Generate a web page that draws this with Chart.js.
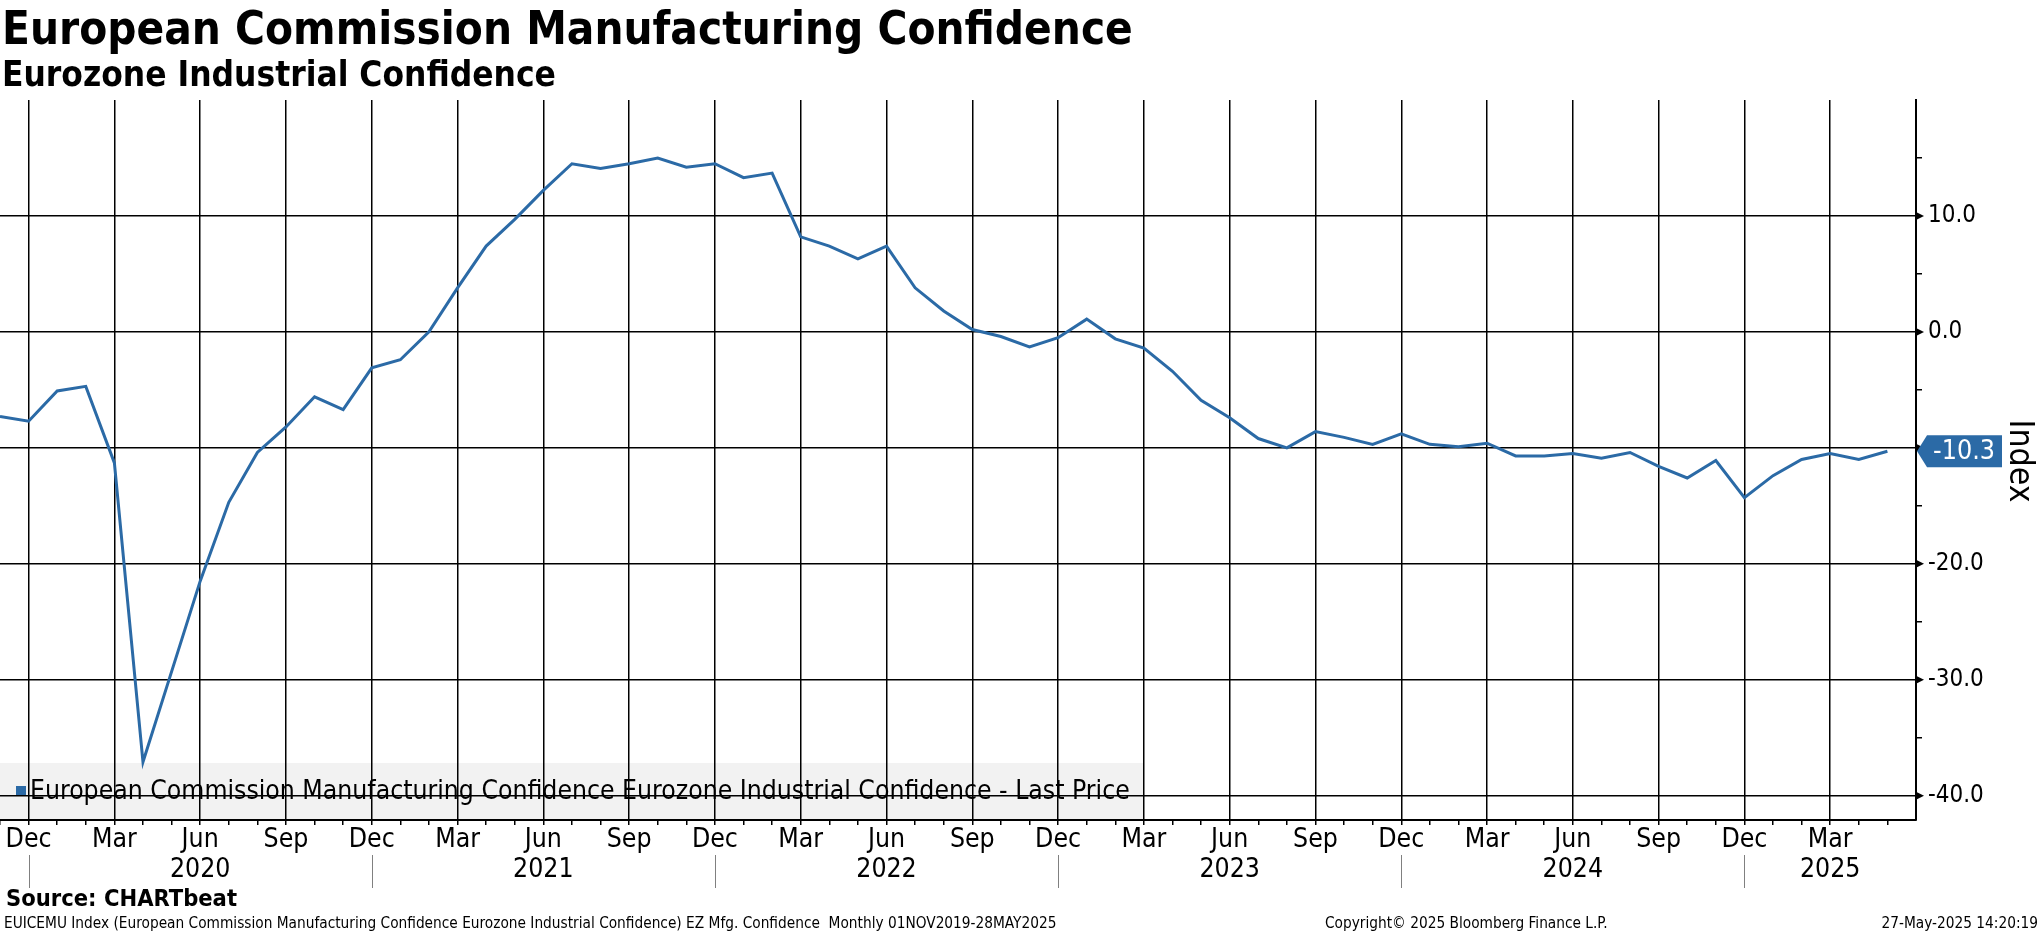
<!DOCTYPE html>
<html>
<head>
<meta charset="utf-8">
<script src="https://cdn.jsdelivr.net/npm/chart.js@4.4.1/dist/chart.umd.min.js"></script>
<style>
  html, body { margin: 0; padding: 0; background: #fff; overflow: hidden; }
  canvas { display: block; }
</style>
</head>
<body>
<canvas id="chart" width="2041" height="936"></canvas>
<script>
// monthly observations, Nov 2019 .. May 2025
const periods = [
  "2019-11", "2019-12",
  "2020-01", "2020-02", "2020-03", "2020-04", "2020-05", "2020-06",
  "2020-07", "2020-08", "2020-09", "2020-10", "2020-11", "2020-12",
  "2021-01", "2021-02", "2021-03", "2021-04", "2021-05", "2021-06",
  "2021-07", "2021-08", "2021-09", "2021-10", "2021-11", "2021-12",
  "2022-01", "2022-02", "2022-03", "2022-04", "2022-05", "2022-06",
  "2022-07", "2022-08", "2022-09", "2022-10", "2022-11", "2022-12",
  "2023-01", "2023-02", "2023-03", "2023-04", "2023-05", "2023-06",
  "2023-07", "2023-08", "2023-09", "2023-10", "2023-11", "2023-12",
  "2024-01", "2024-02", "2024-03", "2024-04", "2024-05", "2024-06",
  "2024-07", "2024-08", "2024-09", "2024-10", "2024-11", "2024-12",
  "2025-01", "2025-02", "2025-03", "2025-04", "2025-05",
];
const confidence = [
  -7.3, -7.7,
  -5.1, -4.7, -11.3, -37.1, -29.3, -21.5,
  -14.7, -10.4, -8.2, -5.6, -6.7, -3.1,
  -2.4, 0.0, 3.8, 7.4, 9.7, 12.2,
  14.5, 14.1, 14.5, 15.0, 14.2, 14.5,
  13.3, 13.7, 8.2, 7.4, 6.3, 7.4,
  3.8, 1.8, 0.2, -0.4, -1.3, -0.5,
  1.1, -0.6, -1.4, -3.4, -5.9, -7.4,
  -9.2, -10.0, -8.6, -9.1, -9.7, -8.8,
  -9.7, -9.9, -9.6, -10.7, -10.7, -10.5,
  -10.9, -10.4, -11.6, -12.6, -11.1, -14.3,
  -12.4, -11.0, -10.5, -11.0, -10.3,
];
const monthNames = ["Jan", "Feb", "Mar", "Apr", "May", "Jun",
                    "Jul", "Aug", "Sep", "Oct", "Nov", "Dec"];
const labelledMonths = ["Dec", "Mar", "Jun", "Sep"];
const yLabelTicks = [10, 0, -10, -20, -30, -40];

const titleText = "European Commission Manufacturing Confidence";
const subtitleText = "Eurozone Industrial Confidence";
const seriesName = "European Commission Manufacturing Confidence Eurozone Industrial Confidence - Last Price";
const sourceText = "Source: CHARTbeat";
const footerLeft = "EUICEMU Index (European Commission Manufacturing Confidence Eurozone Industrial Confidence) EZ Mfg. Confidence  Monthly 01NOV2019-28MAY2025";
const footerMid = "Copyright\u00a9 2025 Bloomberg Finance L.P.";
const footerRight = "27-May-2025 14:20:19";
const axisTitle = "Index";

const FONT = '"DejaVu Sans Condensed", "DejaVu Sans", sans-serif';
const BLUE = "#2b6aa6";

const measure = document.createElement("canvas").getContext("2d");
function fitSize(text, weight, width) {
  measure.font = `${weight} 100px ${FONT}`;
  return (100 * width) / measure.measureText(text).width;
}

const monthOf = (i) => monthNames[Number(periods[i].slice(5)) - 1];

// year label goes under the labelled month closest to the middle of that year
const yearLabelAt = {};
[...new Set(periods.map((p) => p.slice(0, 4)))].forEach((yr) => {
  const idx = periods.map((p, i) => (p.startsWith(yr) ? i : -1)).filter((i) => i >= 0);
  if (idx.length < 3) return;
  const mid = (idx[0] + idx[idx.length - 1]) / 2;
  let best = null;
  idx.forEach((i) => {
    if (labelledMonths.includes(monthOf(i)) && (best === null || Math.abs(i - mid) < Math.abs(best - mid))) best = i;
  });
  if (best !== null) yearLabelAt[best] = yr;
});

const xFont = fitSize("Dec", "normal", 46);
const yFont = fitSize("10.0", "normal", 48);
const footFont = fitSize(footerLeft, "normal", 1053);

const decorations = {
  id: "decorations",
  beforeDraw(chart) {
    const { ctx, chartArea } = chart;
    ctx.save();
    ctx.fillStyle = "#fff";
    ctx.fillRect(0, 0, chart.width, chart.height);

    // legend band sits under the grid
    ctx.fillStyle = "#f2f2f2";
    ctx.fillRect(chartArea.left, 763, 1143, chartArea.bottom - 763);
    ctx.fillStyle = BLUE;
    ctx.fillRect(16, 786, 10, 10);
    ctx.fillStyle = "#000";
    ctx.font = `normal ${fitSize(seriesName, "normal", 1100)}px ${FONT}`;
    ctx.textBaseline = "middle";
    ctx.fillText(seriesName, 30, 792);
    ctx.restore();
  },
  afterDraw(chart) {
    const { ctx, chartArea, scales } = chart;
    const x = scales.x;
    const y = scales.y;
    ctx.save();
    ctx.fillStyle = "#000";
    ctx.textBaseline = "alphabetic";
    ctx.font = `bold ${fitSize(titleText, "bold", 1131)}px ${FONT}`;
    ctx.fillText(titleText, 2, 44);
    ctx.font = `bold ${fitSize(subtitleText, "bold", 554)}px ${FONT}`;
    ctx.fillText(subtitleText, 2, 86);

    ctx.textBaseline = "middle";
    ctx.font = `bold ${fitSize(sourceText, "bold", 231)}px ${FONT}`;
    ctx.fillText(sourceText, 6, 900);
    ctx.font = `normal ${footFont}px ${FONT}`;
    ctx.fillText(footerLeft, 4, 924);
    ctx.fillText(footerMid, 1325, 924);
    ctx.textAlign = "right";
    ctx.fillText(footerRight, 2038, 924);
    ctx.textAlign = "left";

    // year separators under the December ticks
    ctx.strokeStyle = "#808080";
    ctx.lineWidth = 1;
    periods.forEach((p, i) => {
      if (i > 0 && monthOf(i) === "Dec") {
        const px = Math.round(x.getPixelForValue(i)) + 0.5;
        ctx.beginPath();
        ctx.moveTo(px, 855);
        ctx.lineTo(px, 888);
        ctx.stroke();
      }
    });

    // pointer ticks on the value axis
    ctx.fillStyle = "#000";
    yLabelTicks.forEach((v) => {
      const py = y.getPixelForValue(v);
      ctx.beginPath();
      ctx.moveTo(chartArea.right, py - 4);
      ctx.lineTo(chartArea.right + 8, py);
      ctx.lineTo(chartArea.right, py + 4);
      ctx.closePath();
      ctx.fill();
    });

    // last value badge
    const last = confidence[confidence.length - 1];
    const py = y.getPixelForValue(last);
    const x0 = chartArea.right + 1;
    ctx.fillStyle = BLUE;
    ctx.beginPath();
    ctx.moveTo(x0, py);
    ctx.lineTo(x0 + 10, py - 16);
    ctx.lineTo(2002, py - 16);
    ctx.lineTo(2002, py + 16);
    ctx.lineTo(x0 + 10, py + 16);
    ctx.closePath();
    ctx.fill();
    ctx.fillStyle = "#fff";
    ctx.textAlign = "center";
    const lastText = last.toFixed(1);
    ctx.font = `normal ${fitSize(lastText, "normal", 62)}px ${FONT}`;
    ctx.fillText(lastText, 1964, py + 1);

    // axis title, reading downwards
    ctx.fillStyle = "#000";
    ctx.translate(2019, 461);
    ctx.rotate(Math.PI / 2);
    ctx.font = `normal ${fitSize(axisTitle, "normal", 83)}px ${FONT}`;
    ctx.fillText(axisTitle, 0, 0);
    ctx.restore();
  },
};

new Chart(document.getElementById("chart"), {
  type: "line",
  data: {
    datasets: [
      {
        label: seriesName,
        data: confidence.map((v, i) => ({ x: i, y: v })),
        borderColor: BLUE,
        borderWidth: 3,
        pointRadius: 0,
        tension: 0,
      },
    ],
  },
  options: {
    responsive: false,
    animation: false,
    devicePixelRatio: 1,
    layout: { padding: { top: 100, left: 0, right: 0, bottom: 0 } },
    plugins: { legend: { display: false }, tooltip: { enabled: false } },
    scales: {
      x: {
        type: "linear",
        min: 0,
        max: 67,
        afterFit: (s) => { s.height = 116; },
        afterBuildTicks: (s) => { s.ticks = periods.map((p, i) => ({ value: i })); },
        border: { color: "#000", width: 2 },
        grid: {
          color: (c) => (c.tick && labelledMonths.includes(monthOf(c.tick.value)) ? "#000" : "rgba(0,0,0,0)"),
          lineWidth: 1.5,
          tickColor: "#000",
          tickLength: 5,
        },
        ticks: {
          autoSkip: false,
          maxRotation: 0,
          padding: 0,
          color: "#000",
          font: { family: FONT, size: xFont, lineHeight: "30px" },
          callback: (v) => {
            const m = monthOf(v);
            if (!labelledMonths.includes(m)) return "";
            return [m, yearLabelAt[v] || ""];
          },
        },
      },
      y: {
        position: "right",
        min: -42.1,
        max: 20,
        afterFit: (s) => { s.width = 125; },
        afterBuildTicks: (s) => {
          const t = [];
          for (let v = 20; v >= -40; v -= 5) t.push({ value: v });
          s.ticks = t;
        },
        border: { color: "#000", width: 2 },
        grid: {
          color: (c) => (c.tick && c.tick.value % 10 === 0 && c.tick.value < 20 ? "#000" : "rgba(0,0,0,0)"),
          lineWidth: 1.5,
          tickColor: (c) => (c.tick && c.tick.value % 10 !== 0 ? "#000" : "rgba(0,0,0,0)"),
          tickLength: 6,
        },
        ticks: {
          padding: 6,
          color: "#000",
          font: { family: FONT, size: yFont },
          callback: (v) => (yLabelTicks.includes(v) ? v.toFixed(1) : ""),
        },
      },
    },
  },
  plugins: [decorations],
});
</script>
</body>
</html>
